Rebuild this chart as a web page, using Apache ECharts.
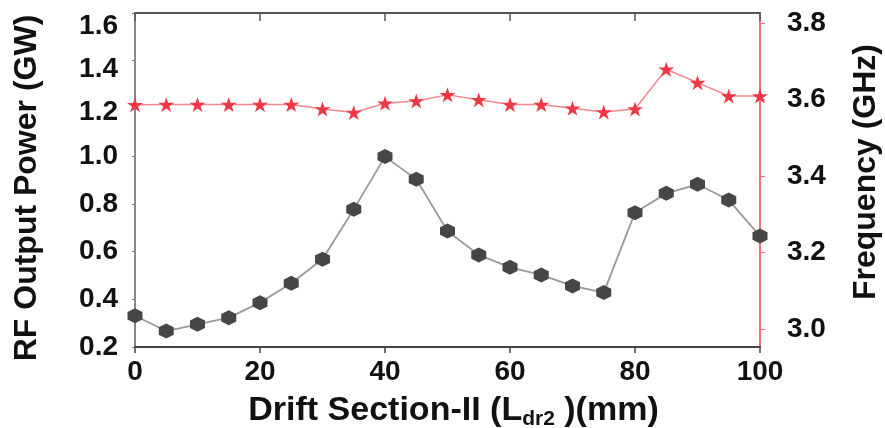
<!DOCTYPE html>
<html>
<head>
<meta charset="utf-8">
<script src="https://cdn.jsdelivr.net/npm/echarts@6/dist/echarts.min.js"></script>
<style>
  html, body { margin: 0; padding: 0; background: #fff; }
  #chart { width: 885px; height: 428px; }
</style>
</head>
<body>
<div id="chart"></div>
<script>
// drift section length (mm)
const drift = [0, 5, 10, 15, 20, 25, 30, 35, 40, 45, 50, 55, 60, 65, 70, 75, 80, 85, 90, 95, 100]
// RF output power (GW)
const power = [0.331, 0.267, 0.295, 0.323, 0.386, 0.467, 0.568, 0.777, 0.998, 0.903, 0.686,
  0.586, 0.534, 0.502, 0.456, 0.428, 0.763, 0.844, 0.882, 0.816, 0.665]
// frequency (GHz)
const freq = [3.586, 3.587, 3.587, 3.587, 3.587, 3.587, 3.575, 3.566, 3.590, 3.596, 3.612,
  3.599, 3.587, 3.587, 3.577, 3.567, 3.575, 3.679, 3.644, 3.609, 3.609]
const freqTicks = [3.0, 3.2, 3.4, 3.6, 3.8]

const hexagon = 'path://M0,-1 L0.866,-0.5 L0.866,0.5 L0,1 L-0.866,0.5 L-0.866,-0.5 Z'
const star = 'path://M0,-1 L0.2245,-0.309 L0.951,-0.309 L0.363,0.118 L0.588,0.809 L0,0.382 L-0.588,0.809 L-0.363,0.118 L-0.951,-0.309 L-0.2245,-0.309 Z'

const font = 'Liberation Sans, Arial, sans-serif'
const labelStyle = { fontFamily: font, fontWeight: 'bold', fontSize: 28, color: '#111' }

let myChart = echarts.init(document.getElementById('chart'))

let option = {
  animation: false,
  grid: {
    left: 135,
    right: 125,
    top: 13,
    bottom: 81,
    outerBoundsMode: 'none'
  },
  xAxis: [
    {
      type: 'value',
      min: 0,
      max: 100,
      interval: 20,
      name: '{t|Drift Section-II (L}{s|dr2}{t| )(mm)}',
      nameLocation: 'middle',
      nameGap: 45,
      nameTextStyle: {
        padding: [0, 0, 0, 12],
        rich: {
          t: { fontFamily: font, fontWeight: 'bold', fontSize: 34, color: '#111', lineHeight: 38 },
          s: { fontFamily: font, fontWeight: 'bold', fontSize: 21, color: '#111', lineHeight: 22, verticalAlign: 'bottom' }
        }
      },
      axisLine: { onZero: false, lineStyle: { color: '#444', width: 2 } },
      axisTick: { inside: false, length: 6, lineStyle: { color: '#444', width: 1.5 } },
      axisLabel: Object.assign({ margin: 11 }, labelStyle),
      splitLine: { show: false }
    },
    {
      type: 'value',
      position: 'top',
      min: 0,
      max: 100,
      interval: 20,
      axisLine: { show: true, onZero: false, lineStyle: { color: '#555', width: 2 } },
      axisTick: { inside: true, length: 8, lineStyle: { color: '#555', width: 1.5 } },
      axisLabel: { show: false },
      splitLine: { show: false }
    }
  ],
  yAxis: [
    {
      type: 'value',
      min: 0.2,
      max: 1.6,
      interval: 0.2,
      name: 'RF Output Power (GW)',
      nameLocation: 'middle',
      nameGap: 92,
      nameTextStyle: { fontFamily: font, fontWeight: 'bold', fontSize: 32, color: '#111', padding: [0, 16, 0, 0] },
      axisLine: { show: true, onZero: false, lineStyle: { color: '#888', width: 2 } },
      axisTick: { show: true, length: 3, lineStyle: { color: '#888' } },
      axisLabel: {
        margin: 17,
        color: '#111',
        // the top labels sit a little below their ticks in the original
        formatter: v => {
          let s = v.toFixed(1)
          if (v > 1.55) return '{a|' + s + '}'
          if (v > 1.35) return '{b|' + s + '}'
          if (v > 1.15) return '{c|' + s + '}'
          return '{n|' + s + '}'
        },
        rich: {
          a: Object.assign({ padding: [26, 0, 0, 0] }, labelStyle),
          b: Object.assign({ padding: [18, 0, 0, 0] }, labelStyle),
          c: Object.assign({ padding: [8, 0, 0, 0] }, labelStyle),
          n: labelStyle
        }
      },
      splitLine: { show: false }
    },
    {
      type: 'value',
      position: 'right',
      min: 2.953,
      max: 3.826,
      name: 'Frequency (GHz)',
      nameLocation: 'middle',
      nameGap: 90,
      nameTextStyle: { fontFamily: font, fontWeight: 'bold', fontSize: 32, color: '#111', padding: [0, 0, 0, 16] },
      axisLine: { show: true, onZero: false, lineStyle: { color: '#f0707c', width: 2 } },
      axisTick: { show: true, length: 5, customValues: freqTicks, lineStyle: { color: '#f0707c' } },
      axisLabel: Object.assign({
        margin: 27,
        customValues: freqTicks,
        formatter: v => v.toFixed(1)
      }, labelStyle),
      splitLine: { show: false }
    }
  ],
  series: [
    {
      name: 'power',
      type: 'line',
      xAxisIndex: 0,
      yAxisIndex: 0,
      data: drift.map((d, i) => [d, power[i]]),
      symbol: hexagon,
      symbolSize: 15,
      itemStyle: { color: '#464646' },
      lineStyle: { color: '#9a9a9a', width: 1.8 }
    },
    {
      name: 'frequency',
      type: 'line',
      xAxisIndex: 0,
      yAxisIndex: 1,
      data: drift.map((d, i) => [d, freq[i]]),
      symbol: star,
      symbolSize: [16, 15],
      itemStyle: { color: '#f03845' },
      lineStyle: { color: '#f4868e', width: 1.5 }
    }
  ]
}

myChart.setOption(option)
</script>
</body>
</html>
